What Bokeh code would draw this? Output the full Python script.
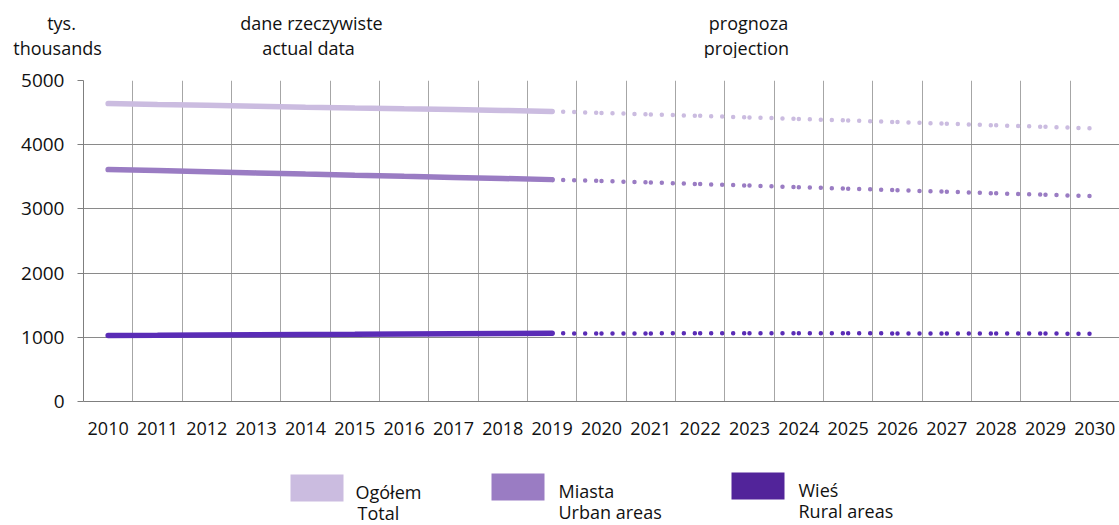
from bokeh.plotting import figure
from bokeh.models import FixedTicker, Range1d
from bokeh.core.properties import value
from bokeh.embed import file_html
from bokeh.resources import INLINE

# ---- data (thousands) ----
years_actual = [2010, 2011, 2012, 2013, 2014, 2015, 2016, 2017, 2018, 2019]
total_actual = [4640, 4627, 4615, 4600, 4585, 4571, 4559, 4548, 4534, 4518]
urban_actual = [3612, 3597, 3580, 3561, 3542, 3524, 3507, 3491, 3474, 3456]
rural_actual = [1028, 1030, 1035, 1039, 1043, 1047, 1052, 1057, 1060, 1062]

years_proj = [2020, 2021, 2022, 2023, 2024, 2025, 2026, 2027, 2028, 2029, 2030]
total_proj = [4495, 4472, 4449, 4425, 4401, 4377, 4352, 4327, 4302, 4278, 4253]
urban_proj = [3435, 3411, 3387, 3363, 3339, 3315, 3291, 3267, 3243, 3220, 3198]
rural_proj = [1060, 1061, 1062, 1062, 1062, 1062, 1061, 1060, 1059, 1058, 1055]

x_tick_years = [2010, 2011, 2012, 2013, 2014, 2015, 2016, 2017, 2018, 2019, 2020,
                2021, 2022, 2023, 2024, 2025, 2026, 2027, 2028, 2029, 2030]
y_tick_values = [0, 1000, 2000, 3000, 4000, 5000]

legend_titles = ["Ogółem", "Miasta", "Wieś"]
legend_subtitles = ["Total", "Urban areas", "Rural areas"]
header_texts = ["tys.", "thousands", "dane rzeczywiste", "actual data", "prognoza", "projection"]

C_TOTAL = "#CBBCE0"
C_URBAN = "#9A7CC3"
C_RURAL_LINE = "#5A2CB6"
C_RURAL_LEG = "#52249A"
FONT = "Open Sans"
TXT = "#111111"
W = 1119


def bare(fig):
    fig.outline_line_color = None
    fig.background_fill_color = None
    fig.border_fill_color = None
    return fig


# ---- header (pixel-space figure) ----
hdr = bare(figure(width=W, height=58, output_backend="svg", toolbar_location=None,
                  x_range=Range1d(0, W), y_range=Range1d(58, 0),
                  x_axis_type=None, y_axis_type=None, min_border=0))
hdr.grid.visible = False
hdr.text(x=[61, 57, 311, 308, 748, 746], y=[22, 47, 22, 47, 22, 47], text=header_texts,
         text_align="center", text_baseline="middle", text_font=value(FONT),
         text_font_size="18px", text_color=TXT)

# ---- main chart ----
p = figure(width=W, height=392, output_backend="svg", toolbar_location=None,
           x_range=Range1d(2009.5, 2030.5), y_range=Range1d(0, 5000),
           min_border_left=83, min_border_right=0, min_border_top=22,
           min_border_bottom=49)
p.outline_line_color = None

p.xgrid.ticker = FixedTicker(ticks=[y + 0.5 for y in [2009] + x_tick_years[:-1]])
p.xgrid.grid_line_color = "#a6a6a6"
p.ygrid.ticker = FixedTicker(ticks=y_tick_values)
p.ygrid.grid_line_color = "#8a8a8a"

p.xaxis.ticker = FixedTicker(ticks=x_tick_years)
p.xaxis.major_tick_out = 0
p.xaxis.major_tick_in = 0
p.xaxis.minor_tick_line_color = None
p.xaxis.axis_line_color = "#7f7f7f"
p.xaxis.major_label_text_font = FONT
p.xaxis.major_label_text_font_size = "18px"
p.xaxis.major_label_text_color = TXT
p.xaxis.major_label_standoff = 20

p.yaxis.ticker = FixedTicker(ticks=y_tick_values)
p.yaxis.major_tick_out = 6
p.yaxis.major_tick_in = 0
p.yaxis.major_tick_line_color = "#7f7f7f"
p.yaxis.minor_tick_line_color = None
p.yaxis.axis_line_color = "#7f7f7f"
p.yaxis.major_label_text_font = FONT
p.yaxis.major_label_text_font_size = "19px"
p.yaxis.major_label_text_color = TXT
p.yaxis.major_label_standoff = 13

for vals, col in [(total_actual, C_TOTAL), (urban_actual, C_URBAN), (rural_actual, C_RURAL_LINE)]:
    p.line(years_actual, vals, line_color=col, line_width=5.5, line_cap="round")

for act, proj, col in [(total_actual, total_proj, C_TOTAL),
                       (urban_actual, urban_proj, C_URBAN),
                       (rural_actual, rural_proj, C_RURAL_LINE)]:
    xs_all = [years_actual[-1]] + years_proj
    ys_all = [act[-1]] + proj
    xs = [[xs_all[i], xs_all[i + 1]] for i in range(len(xs_all) - 1)]
    ys = [[ys_all[i], ys_all[i + 1]] for i in range(len(ys_all) - 1)]
    p.multi_line(xs, ys, line_color=col, line_width=4.5, line_dash="0 11", line_cap="round")

# ---- legend (pixel-space figure) ----
lg = bare(figure(width=W, height=70, output_backend="svg", toolbar_location=None,
                 x_range=Range1d(0, W), y_range=Range1d(520, 450),
                 x_axis_type=None, y_axis_type=None, min_border=0))
lg.grid.visible = False
sw_left = [290, 491, 731]
sw_top = [474, 473, 472]
lg.quad(left=sw_left, right=[l + 53 for l in sw_left], top=sw_top,
        bottom=[t + 27 for t in sw_top],
        fill_color=[C_TOTAL, C_URBAN, C_RURAL_LEG], line_color=None)
lg.text(x=[355, 558, 798], y=[491, 490, 489], text=legend_titles,
        text_align="left", text_baseline="alphabetic", text_font=value(FONT),
        text_font_size="18px", text_color=TXT)
lg.text(x=[357, 558, 798], y=[512, 511, 510], text=legend_subtitles,
        text_align="left", text_baseline="alphabetic", text_font=value(FONT),
        text_font_size="18px", text_color=TXT)

open("out.html", "w").write(file_html([hdr, p, lg], INLINE))
